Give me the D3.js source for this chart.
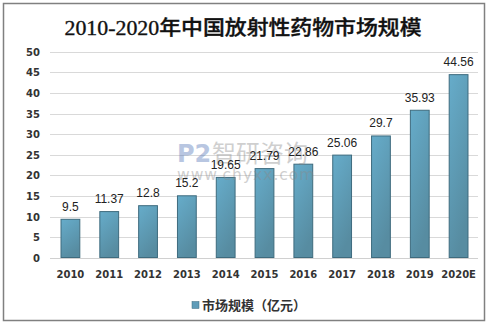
<!DOCTYPE html>
<html><head><meta charset="utf-8">
<script src="https://cdn.jsdelivr.net/npm/d3@7"></script>
<style>body{margin:0;background:#fff}svg{display:block}</style>
</head><body>
<script>
const categories = ["2010","2011","2012","2013","2014","2015","2016","2017","2018","2019","2020E"];
const values = [9.5, 11.37, 12.8, 15.2, 19.65, 21.79, 22.86, 25.06, 29.7, 35.93, 44.56];
const valueLabels = ["9.5","11.37","12.8","15.2","19.65","21.79","22.86","25.06","29.7","35.93","44.56"];
const yTicks = [0,5,10,15,20,25,30,35,40,45,50];
const title = "2010-2020年中国放射性药物市场规模";
const seriesName = "市场规模（亿元）";

const W = 490, H = 326;
const svg = d3.select("body").append("svg").attr("width", W).attr("height", H);
const defs = svg.append("defs");
const g1 = defs.append("linearGradient").attr("id","barg").attr("x1","0").attr("y1","0").attr("x2","0.4").attr("y2","1");
g1.append("stop").attr("offset","0").attr("stop-color","#66acca");
g1.append("stop").attr("offset","1").attr("stop-color","#578ca1");

svg.append("rect").attr("x",3.5).attr("y",3.5).attr("width",481).attr("height",317)
  .attr("fill","#fff").attr("stroke","#808080").attr("stroke-width",1.5);

const x = d3.scaleBand().domain(categories).range([51, 478]).paddingInner(0.49).paddingOuter(0.245);
const y = d3.scaleLinear().domain([0,50]).range([258, 51.7]);

// gridlines
svg.append("g").selectAll("line").data(yTicks.filter(d=>d>0)).join("line")
  .attr("x1",50).attr("x2",478).attr("y1",d=>Math.round(y(d))+0.5).attr("y2",d=>Math.round(y(d))+0.5)
  .attr("stroke","#d9d9d9").attr("stroke-width",1);

// y axis labels
const yAxis = d3.axisLeft(y).tickValues(yTicks).tickSize(0).tickPadding(0);
const ya = svg.append("g").attr("transform","translate(40,0)").call(yAxis);
ya.select(".domain").remove();
ya.selectAll("text").attr("font-family","DejaVu Sans, Verdana, sans-serif").attr("font-weight","bold")
  .attr("font-size","10px").attr("fill","#333").attr("dy","0.35em");

// bars
svg.append("g").selectAll("rect").data(values).join("rect")
  .attr("x",(d,i)=>x(categories[i])+0.5).attr("y",d=>y(d)+0.5)
  .attr("width",x.bandwidth()-1).attr("height",d=>y(0)-y(d)-1)
  .attr("fill","url(#barg)").attr("stroke","#3e6b7e").attr("stroke-width",1);

// baseline
svg.append("line").attr("x1",50).attr("x2",478).attr("y1",258.5).attr("y2",258.5).attr("stroke","#d0d0d0");

// watermark (on top, semi-transparent)
const wm = svg.append("g").attr("opacity",0.4);
wm.append("text").attr("x",177).attr("y",162).attr("font-family","DejaVu Sans, sans-serif").attr("font-weight","bold")
  .attr("font-size","24px").attr("fill","#4f72b5").text("P2");
wm.append("text").attr("x",212).attr("y",162).attr("font-family","Noto Sans CJK SC").attr("font-size","24px")
  .attr("fill","#8a8a8a").text("智研咨询");
wm.append("text").attr("x",177).attr("y",180).attr("font-family","DejaVu Sans, sans-serif").attr("font-size","15.5px")
  .attr("fill","#8a8a8a").attr("letter-spacing","1px").text("www.chyxx.com");

// value labels
svg.append("g").selectAll("text").data(values).join("text")
  .attr("x",(d,i)=>x(categories[i])+x.bandwidth()/2).attr("y",d=>y(d)-8)
  .attr("text-anchor","middle").attr("font-family","Liberation Sans, Arial, sans-serif")
  .attr("font-size","12px").attr("fill","#222").text((d,i)=>valueLabels[i]);

// x axis labels
const xAxis = d3.axisBottom(x).tickSize(0).tickPadding(0);
const xa = svg.append("g").attr("transform","translate(0,271)").call(xAxis);
xa.select(".domain").remove();
xa.selectAll("text").attr("font-family","DejaVu Sans, Verdana, sans-serif").attr("font-weight","bold")
  .attr("font-size","10px").attr("fill","#333").attr("dy","0.71em");

// title
svg.append("text").attr("x",243).attr("y",35).attr("text-anchor","middle")
  .attr("font-family","Liberation Serif, Noto Sans CJK SC").attr("font-weight","500").attr("font-size","20px")
  .attr("fill","#111").attr("stroke","#111").attr("stroke-width",0.35)
  .attr("textLength",357).attr("lengthAdjust","spacingAndGlyphs").text(title);

// legend
svg.append("rect").attr("x",192).attr("y",301.5).attr("width",7).attr("height",7)
  .attr("fill","#5f9cb8").attr("stroke","#3e6b7e").attr("stroke-width",0.5);
svg.append("text").attr("x",202).attr("y",310).attr("font-family","Noto Sans CJK SC").attr("font-weight","bold")
  .attr("font-size","13px").attr("fill","#333").text(seriesName);
</script>
</body></html>
